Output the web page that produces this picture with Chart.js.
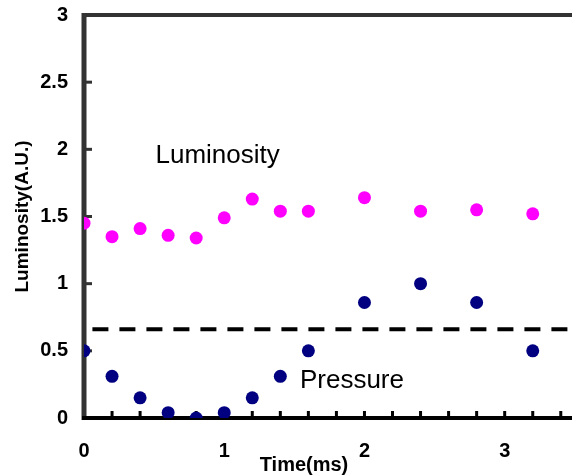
<!DOCTYPE html>
<html>
<head>
<meta charset="utf-8">
<script src="https://cdn.jsdelivr.net/npm/chart.js@4"></script>
<style>
  html, body { margin: 0; padding: 0; background: #fff; }
  #c { display: block; }
</style>
</head>
<body>
<canvas id="c" width="572" height="476"></canvas>
<script>
// data
const timeMs = [0, 0.2, 0.4, 0.6, 0.8, 1.0, 1.2, 1.4, 1.6, 2.0, 2.4, 2.8, 3.2];
const luminosity = [1.45, 1.35, 1.41, 1.36, 1.34, 1.49, 1.63, 1.54, 1.54, 1.64, 1.54, 1.55, 1.52];
const pressure = [0.5, 0.31, 0.15, 0.04, 0.0, 0.04, 0.15, 0.31, 0.5, 0.86, 1.0, 0.86, 0.5];
const thresholdLevel = 0.66;
const thresholdRange = [0.06, 3.48];
const xTickLabels = [0, 1, 2, 3];
const xMinorTicks = [0.2, 0.4, 0.6, 0.8, 1, 1.2, 1.4, 1.6, 1.8, 2, 2.2, 2.4, 2.6, 2.8, 3, 3.2, 3.4];
const yMinorTicks = [0.5, 1, 1.5, 2, 2.5];
const seriesNotes = [
    { text: 'Luminosity', x: 0.51, y: 1.9 },
    { text: 'Pressure', x: 1.54, y: 0.22 }
];
const xTitle = 'Time(ms)';
const yTitle = 'Luminosity(A.U.)';

const FONT = "'Liberation Sans', Arial, sans-serif";

// axis frame, inside tick marks and the text notes
const framePlugin = {
    id: 'frame',
    beforeDatasetsDraw(chart) {
        const { ctx, chartArea: a, scales: { x, y } } = chart;
        ctx.save();
        ctx.lineCap = 'butt';

        // top line
        ctx.strokeStyle = '#333333';
        ctx.lineWidth = 4;
        ctx.beginPath();
        ctx.moveTo(a.left - 2, a.top);
        ctx.lineTo(a.right, a.top);
        ctx.stroke();

        // left axis
        ctx.lineWidth = 5;
        ctx.beginPath();
        ctx.moveTo(a.left, a.top - 2);
        ctx.lineTo(a.left, a.bottom + 2);
        ctx.stroke();

        // y ticks pointing in
        ctx.lineWidth = 3;
        yMinorTicks.forEach(v => {
            const py = y.getPixelForValue(v);
            ctx.beginPath();
            ctx.moveTo(a.left, py);
            ctx.lineTo(a.left + 8, py);
            ctx.stroke();
        });

        // bottom axis
        ctx.strokeStyle = '#000000';
        ctx.lineWidth = 4;
        ctx.beginPath();
        ctx.moveTo(a.left - 2, a.bottom);
        ctx.lineTo(a.right, a.bottom);
        ctx.stroke();

        // x ticks pointing in
        ctx.lineWidth = 3;
        xMinorTicks.forEach(v => {
            const px = x.getPixelForValue(v);
            ctx.beginPath();
            ctx.moveTo(px, a.bottom);
            ctx.lineTo(px, a.bottom - 7);
            ctx.stroke();
        });
        ctx.restore();
    },
    afterDraw(chart) {
        const { ctx, scales: { x, y } } = chart;
        ctx.save();
        ctx.fillStyle = '#000000';
        ctx.textBaseline = 'alphabetic';
        ctx.textAlign = 'left';
        ctx.font = '26px ' + FONT;
        seriesNotes.forEach(n => {
            ctx.fillText(n.text, x.getPixelForValue(n.x), y.getPixelForValue(n.y));
        });

        // x axis title sits a little left of centre in the reference
        ctx.font = 'bold 20px ' + FONT;
        ctx.textAlign = 'center';
        ctx.fillText(xTitle, 304, 471);
        ctx.restore();
    }
};

const dot = (values) => timeMs.map((t, i) => ({ x: t, y: values[i] }));

new Chart(document.getElementById('c'), {
    type: 'scatter',
    data: {
        datasets: [
            {
                type: 'line',
                label: 'threshold',
                data: thresholdRange.map(t => ({ x: t, y: thresholdLevel })),
                borderColor: '#000000',
                borderWidth: 4,
                borderDash: [16, 11],
                pointRadius: 0,
                fill: false
            },
            {
                label: 'Luminosity',
                data: dot(luminosity),
                backgroundColor: '#ff00ff',
                borderColor: '#ff00ff',
                pointRadius: 6.5,
                borderWidth: 0
            },
            {
                label: 'Pressure',
                data: dot(pressure),
                backgroundColor: '#000080',
                borderColor: '#000080',
                pointRadius: 6.5,
                borderWidth: 0
            }
        ]
    },
    options: {
        responsive: false,
        animation: false,
        layout: { autoPadding: false, padding: { top: 15, right: 0, left: 0, bottom: 0 } },
        plugins: {
            legend: { display: false },
            tooltip: { enabled: false }
        },
        scales: {
            x: {
                type: 'linear',
                min: 0,
                max: 3.48,
                grid: { display: false },
                border: { display: false },
                afterBuildTicks: (scale) => {
                    scale.ticks = xTickLabels.map(v => ({ value: v }));
                },
                afterFit: (scale) => {
                    scale.height = 58;
                    scale.paddingLeft = 0;
                    scale.paddingRight = 0;
                },
                ticks: {
                    padding: 13,
                    color: '#000000',
                    maxRotation: 0,
                    callback: (v) => String(v),
                    font: { family: FONT, size: 20, weight: 'bold' }
                }
            },
            y: {
                min: 0,
                max: 3,
                grid: { display: false },
                border: { display: false },
                afterFit: (scale) => {
                    scale.width = 84;
                    scale.paddingTop = 0;
                    scale.paddingBottom = 0;
                },
                ticks: {
                    stepSize: 0.5,
                    padding: 8,
                    color: '#000000',
                    callback: (v) => String(v),
                    font: { family: FONT, size: 20, weight: 'bold' }
                },
                title: {
                    display: true,
                    text: yTitle,
                    color: '#000000',
                    padding: { top: 11, bottom: 0 },
                    font: { family: FONT, size: 19, weight: 'bold' }
                }
            }
        }
    },
    plugins: [framePlugin]
});
</script>
</body>
</html>
